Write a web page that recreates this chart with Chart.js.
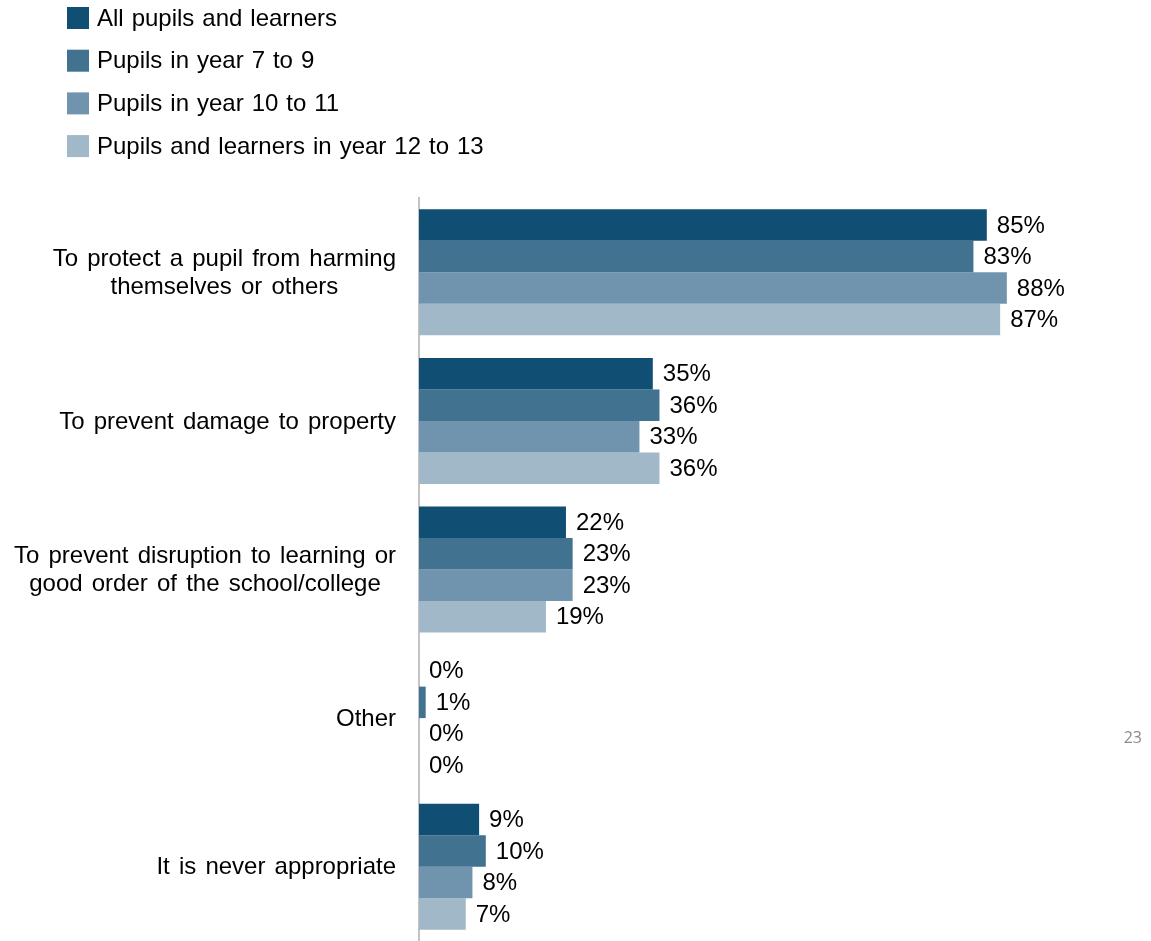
<!DOCTYPE html>
<html lang="en">
<head>
    <meta charset="UTF-8">
    <title>Reasons for use of restraint</title>
    <script src="https://cdn.jsdelivr.net/npm/chart.js"></script>
    <style>
        html, body {
            margin: 0;
            padding: 0;
            background: #ffffff;
        }
        #wrap {
            position: relative;
            width: 1151px;
            height: 941px;
        }
    </style>
</head>
<body>
    <div id="wrap">
        <canvas id="reasonsChart"></canvas>
    </div>

    <script>
        // Categories (multi-line labels are arrays of lines)
        const categories = [
            ['To protect a pupil from harming', 'themselves or others'],
            'To prevent damage to property',
            ['To prevent disruption to learning or', 'good order of the school/college'],
            'Other',
            'It is never appropriate'
        ];

        const seriesNames = [
            'All pupils and learners',
            'Pupils in year 7 to 9',
            'Pupils in year 10 to 11',
            'Pupils and learners in year 12 to 13'
        ];

        // Percentages per series, in category order
        const allPupils = [85, 35, 22, 0, 9];
        const year7to9 = [83, 36, 23, 1, 10];
        const year10to11 = [88, 33, 23, 0, 8];
        const year12to13 = [87, 36, 19, 0, 7];

        const seriesColors = ['#114e74', '#41728f', '#7094ae', '#a1b8c8'];
        const pageNumber = '23';

        const FONT = "'Liberation Sans', Arial, sans-serif";
        const AXIS_LEFT = 419;

        // Legend stacked at top-left
        const legendPlugin = {
            id: 'stackedLegend',
            afterDraw(chart) {
                const ctx = chart.ctx;
                ctx.save();
                ctx.font = '24px ' + FONT;
                ctx.wordSpacing = '1.3px';
                ctx.textBaseline = 'middle';
                ctx.textAlign = 'left';
                chart.data.datasets.forEach((ds, i) => {
                    const cy = 18 + i * 42.7;
                    ctx.fillStyle = ds.backgroundColor;
                    ctx.fillRect(67, cy - 11, 22, 22);
                    ctx.fillStyle = '#000000';
                    ctx.fillText(ds.label, 97, cy + 1);
                });
                ctx.restore();
            }
        };

        // Category labels: block right-aligned to the axis, lines centred inside it
        const categoryLabelPlugin = {
            id: 'categoryLabels',
            afterDraw(chart) {
                const ctx = chart.ctx;
                const yScale = chart.scales.y;
                const lineHeight = 28;
                const rightEdge = AXIS_LEFT - 23;
                ctx.save();
                ctx.font = '24px ' + FONT;
                ctx.wordSpacing = '2.5px';
                ctx.fillStyle = '#000000';
                ctx.textBaseline = 'middle';
                ctx.textAlign = 'center';
                chart.data.labels.forEach((label, i) => {
                    const lines = Array.isArray(label) ? label : [label];
                    const widest = Math.max(...lines.map(l => ctx.measureText(l).width));
                    const cx = rightEdge - widest / 2;
                    const cy = yScale.getPixelForTick(i);
                    const top = cy - (lines.length - 1) * lineHeight / 2;
                    lines.forEach((line, j) => {
                        ctx.fillText(line, cx, top + j * lineHeight + 1);
                    });
                });
                ctx.restore();
            }
        };

        // Value labels just past the end of each bar
        const valueLabelPlugin = {
            id: 'valueLabels',
            afterDatasetsDraw(chart) {
                const ctx = chart.ctx;
                ctx.save();
                ctx.font = '24px ' + FONT;
                ctx.fillStyle = '#000000';
                ctx.textBaseline = 'middle';
                ctx.textAlign = 'left';
                chart.data.datasets.forEach((ds, i) => {
                    chart.getDatasetMeta(i).data.forEach((bar, j) => {
                        ctx.fillText(ds.data[j] + '%', bar.x + 10, bar.y + 1);
                    });
                });
                // page number
                ctx.font = "16px 'Open Sans', sans-serif";
                ctx.fillStyle = '#8a8a8a';
                ctx.textAlign = 'right';
                ctx.fillText(pageNumber, 1142, 738);
                ctx.restore();
            }
        };

        const seriesData = [allPupils, year7to9, year10to11, year12to13];

        new Chart(document.getElementById('reasonsChart'), {
            type: 'bar',
            data: {
                labels: categories,
                datasets: seriesData.map((values, i) => ({
                    label: seriesNames[i],
                    data: values,
                    backgroundColor: seriesColors[i],
                    borderWidth: 0,
                    categoryPercentage: 0.848,
                    barPercentage: 1.0
                }))
            },
            options: {
                indexAxis: 'y',
                responsive: true,
                maintainAspectRatio: false,
                animation: false,
                layout: {
                    padding: { top: 198, right: 64, bottom: 0, left: 0 }
                },
                plugins: {
                    legend: { display: false },
                    tooltip: { enabled: false }
                },
                scales: {
                    x: {
                        display: false,
                        min: 0,
                        max: 100
                    },
                    y: {
                        grid: { display: false, drawTicks: false },
                        border: { display: true, color: '#c4c4c4', width: 2 },
                        ticks: { display: false },
                        afterFit(scale) {
                            scale.width = AXIS_LEFT;
                        }
                    }
                }
            },
            plugins: [legendPlugin, categoryLabelPlugin, valueLabelPlugin]
        });
    </script>
</body>
</html>
